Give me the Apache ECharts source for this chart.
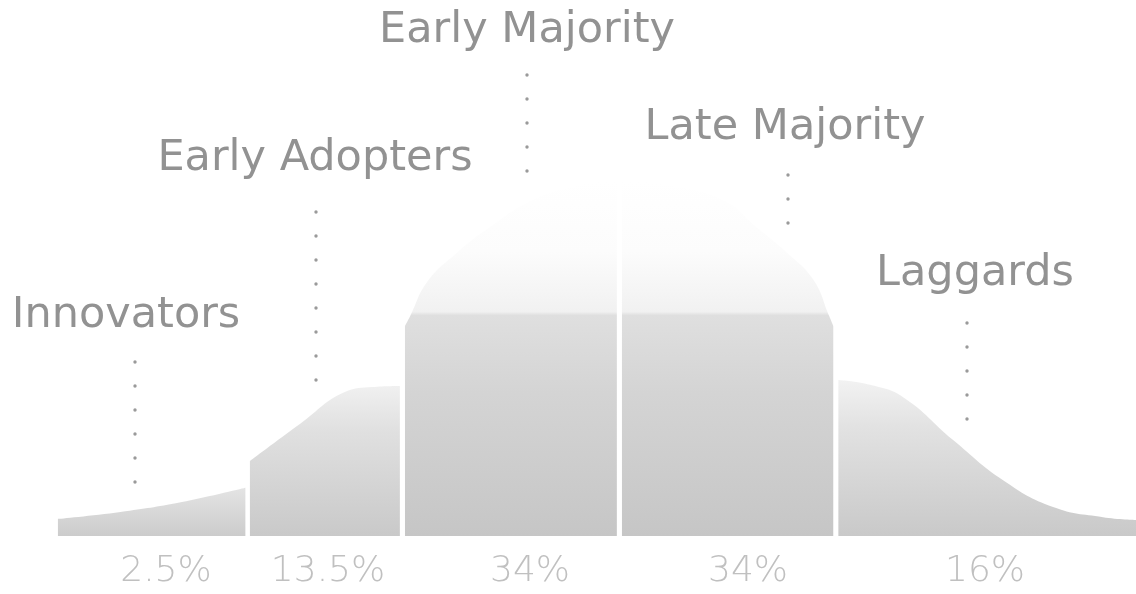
<!DOCTYPE html>
<html>
<head>
<meta charset="utf-8">
<title>Diffusion of Innovations</title>
<script src="https://cdn.jsdelivr.net/npm/echarts@6/dist/echarts.min.js"></script>
<style>
  html, body { margin: 0; padding: 0; background: #ffffff; }
  #chart { width: 1136px; height: 594px; }
</style>
</head>
<body>
<div id="chart"></div>
<script>
// adopter groups and their share of the population
var segments = ['Innovators', 'Early Adopters', 'Early Majority', 'Late Majority', 'Laggards'];
var shares = ['2.5%', '13.5%', '34%', '34%', '16%'];

// outline of each slice of the bell: [position along x (0-100), height (0-100)]
var innovatorsCurve = [[5.1, 3.2], [10.6, 4.5], [15.9, 6.3], [21.6, 9.0]];
var earlyAdoptersCurve = [[22.0, 14.0], [26.4, 20.9], [30.4, 26.9], [32.8, 27.8], [35.2, 28.0]];
var earlyMajorityCurve = [[35.65, 39.2], [36.1, 41.0], [37.6, 47.4], [40.2, 52.8], [43.1, 57.6],
  [46.9, 62.7], [51.1, 65.5], [54.3, 66.4]];
var lateMajorityCurve = [[54.75, 66.4], [58.1, 65.7], [63.6, 62.7], [66.6, 57.6], [69.3, 52.8],
  [71.6, 47.8], [73.0, 41.0], [73.35, 39.2]];
var laggardsCurve = [[73.8, 29.1], [76.6, 28.2], [79.5, 25.9], [83.9, 17.9], [88.3, 10.4],
  [92.7, 5.4], [97.1, 3.5], [100, 3.0]];

(function() {
  var curves = [innovatorsCurve, earlyAdoptersCurve, earlyMajorityCurve, lateMajorityCurve, laggardsCurve];

  // vertical fades, one per slice (majority slices fade hard above the block top)
  function grad(stops) {
    return new echarts.graphic.LinearGradient(0, 0, 0, 1, stops.map(function(s) {
      return { offset: s[0], color: s[1] };
    }));
  }
  var majorityFade = [[0, '#ffffff'], [0.2, '#fcfcfc'], [0.37, '#f1f1f1'], [0.38, '#dfdfdf'],
    [0.6, '#d4d4d4'], [1, '#c6c6c6']];
  var fills = [
    grad([[0, '#e4e4e4'], [1, '#cccccc']]),
    grad([[0, '#f0f0f0'], [0.3, '#e0e0e0'], [1, '#c9c9c9']]),
    grad(majorityFade),
    grad(majorityFade),
    grad([[0, '#f2f2f2'], [0.3, '#e2e2e2'], [1, '#c9c9c9']])
  ];

  // label placement (pixels)
  var nameLayout = [
    { x: 126, y: 316, dotX: 135, dotTop: 362, dots: 6 },
    { x: 315, y: 159, dotX: 316, dotTop: 212, dots: 8 },
    { x: 527, y: 31, dotX: 527, dotTop: 75, dots: 5 },
    { x: 785, y: 128, dotX: 788, dotTop: 175, dots: 3 },
    { x: 975, y: 274, dotX: 967, dotTop: 323, dots: 5 }
  ];
  var shareX = [166, 328, 530, 748, 985];
  var dotGap = 24;

  var graphics = [];
  segments.forEach(function(name, i) {
    var l = nameLayout[i];
    graphics.push({
      type: 'text',
      style: {
        text: name, x: l.x, y: l.y, fill: '#929292',
        font: '43px "DejaVu Sans"', align: 'center', verticalAlign: 'middle'
      }
    });
    for (var k = 0; k < l.dots; k++) {
      graphics.push({
        type: 'circle',
        shape: { cx: l.dotX, cy: l.dotTop + k * dotGap, r: 1.7 },
        style: { fill: '#9a9a9a' }
      });
    }
    graphics.push({
      type: 'text',
      style: {
        text: shares[i], x: shareX[i], y: 572, fill: '#c0c0c0',
        font: '200 36px "DejaVu Sans"', align: 'center', verticalAlign: 'middle'
      }
    });
  });

  var chart = echarts.init(document.getElementById('chart'));
  chart.setOption({
    animation: false,
    backgroundColor: '#ffffff',
    grid: { left: 0, right: 0, top: 0, bottom: 58 },
    xAxis: { type: 'value', min: 0, max: 100, show: false },
    yAxis: { type: 'value', min: 0, max: 100, show: false },
    series: segments.map(function(name, i) {
      return {
        name: name,
        type: 'line',
        data: curves[i],
        smooth: 0.45,
        showSymbol: false,
        silent: true,
        lineStyle: { width: 0 },
        areaStyle: { color: fills[i], opacity: 1 }
      };
    }),
    graphic: graphics
  });
  window.addEventListener('resize', function() { chart.resize(); });
})();
</script>
</body>
</html>
